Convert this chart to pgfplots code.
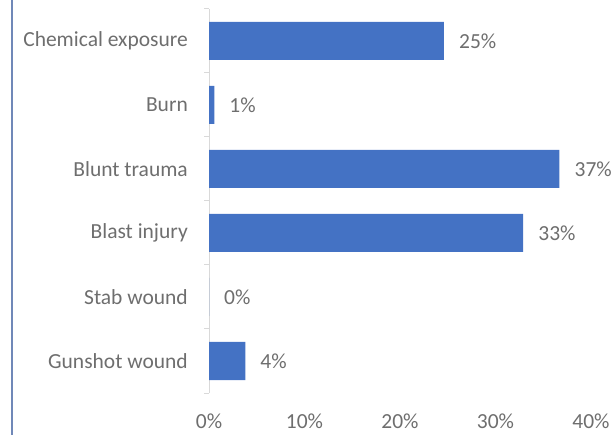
\documentclass[border=0pt]{standalone}
\usepackage{pgfplots}
\pgfplotsset{compat=1.18}
\usepackage{fontspec}
\setmainfont{Carlito}
\definecolor{barblue}{HTML}{4472C4}
\definecolor{labgray}{HTML}{6E6E6E}
\definecolor{frameblue}{HTML}{7088B8}
\begin{document}
\fontsize{21.5bp}{25bp}\selectfont
\begin{tikzpicture}
\useasboundingbox (0,0) rectangle (612bp,435bp);
\clip (0,0) rectangle (612bp,435bp);
\draw[frameblue, line width=2bp] (12bp,-5bp) -- (12bp,440bp);
\begin{axis}[
  at={(209bp,42bp)}, anchor=south west,
  scale only axis, width=382bp, height=384bp,
  xbar, bar width=38bp,
  xmin=0, xmax=40, ymin=-0.5, ymax=5.5,
  axis lines=left, separate axis lines,
  x axis line style={draw=none},
  y axis line style={draw=black!15, -, line width=1bp},
  xtick={0,10,20,30,40},
  xticklabel={\pgfmathprintnumber{\tick}\%},
  ytick={0,...,5},
  yticklabels={Gunshot wound,Stab wound,Blast injury,Blunt trauma,Burn,Chemical exposure},
  minor ytick={-0.5,0.5,...,5.5},
  tick align=outside,
  major tick length=0pt, minor tick length=5bp,
  minor y tick style={draw=black!15, line width=1bp},
  major tick style={draw=none},
  /pgf/number format/assume math mode=true,
  tick label style={font=\fontsize{21.5bp}{25bp}\selectfont, color=labgray},
  xticklabel style={anchor=center, inner sep=0pt, yshift=-28bp},
  yticklabel style={anchor=east, inner sep=0pt, xshift=-21bp},
  nodes near coords={\pgfmathprintnumber[fixed,precision=0]{\pgfplotspointmeta}\%},
  nodes near coords align=horizontal,
  every node near coord/.append style={anchor=west, inner sep=0pt, xshift=15bp,
    font=\fontsize{21.5bp}{25bp}\selectfont, color=labgray},
  clip=false,
]
\addplot[fill=barblue, draw=none] coordinates {
  (24.6,5) (0.55,4) (36.7,3) (32.9,2) (0,1) (3.8,0)
};
\end{axis}
\end{tikzpicture}
\end{document}
